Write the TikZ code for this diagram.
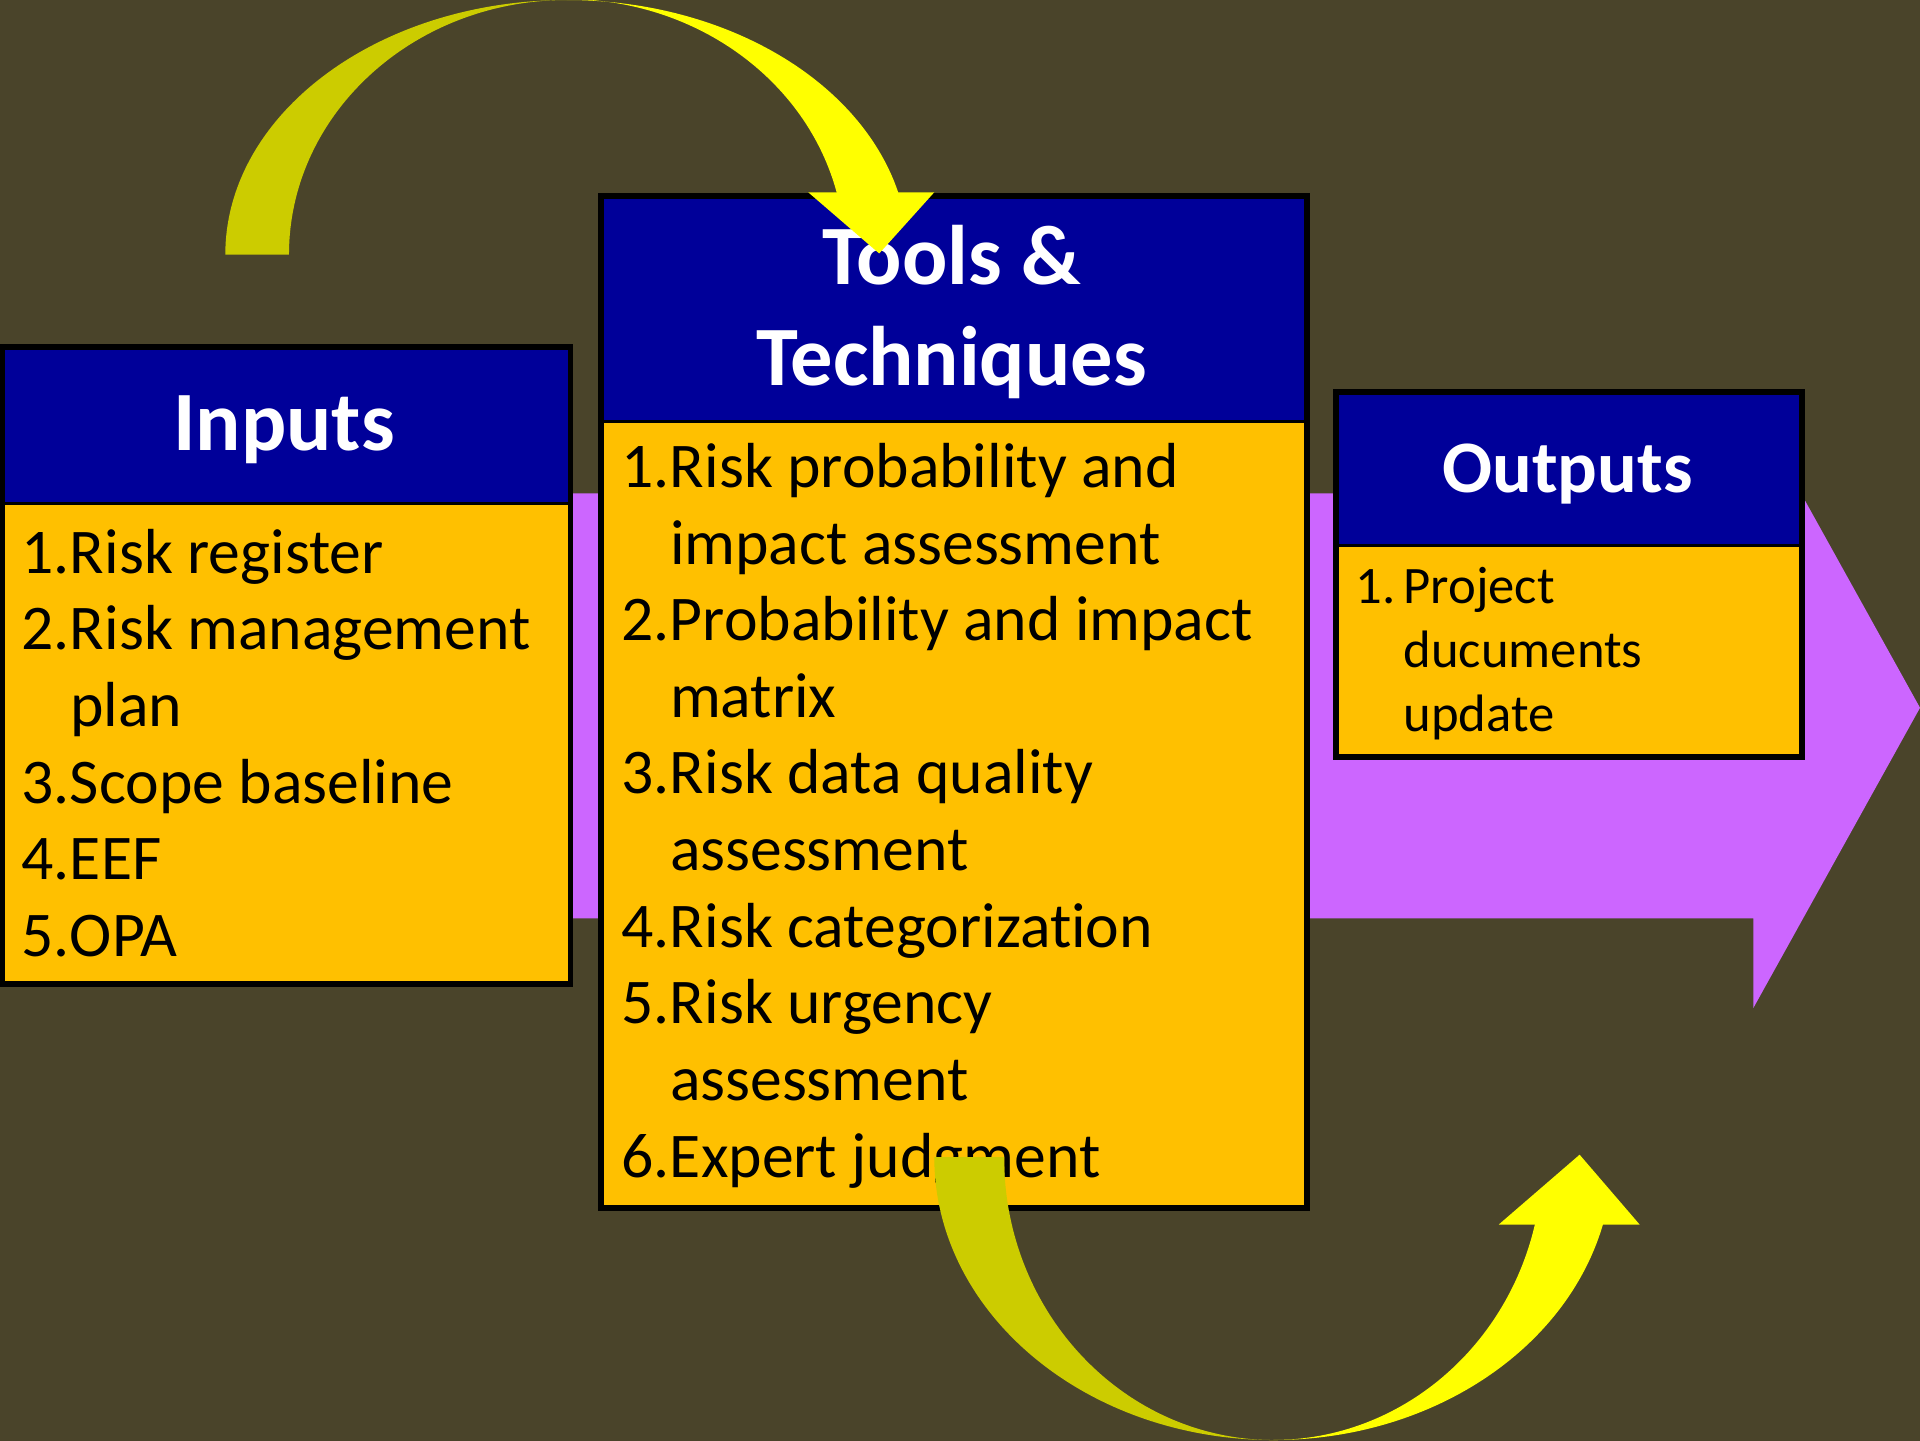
\documentclass[tikz,border=0pt]{standalone}
\usepackage{fontspec}
\setmainfont{Carlito}[Ligatures={NoCommon}]
\definecolor{bgolive}{HTML}{4A442A}
\definecolor{hdrblue}{HTML}{000099}
\definecolor{bodygold}{HTML}{FFC000}
\definecolor{flowpurple}{HTML}{CC66FF}
\definecolor{darkyel}{HTML}{CCCC00}
\definecolor{brightyel}{HTML}{FFFF00}
\newlength\numw
\newcommand\pitem[2]{\par\hangindent=\numw\hangafter=1\noindent\makebox[\numw][l]{#1}#2}
\tikzset{
  hdr/.style={fill=hdrblue, draw=black, line width=2.5pt, anchor=north west, inner sep=0},
  bodybox/.style={fill=bodygold, draw=black, line width=2.5pt, anchor=north west, inner sep=0},
  frame/.style={draw=black, line width=4.5pt},
  ttl/.style={text=white, font=\bfseries\fontsize{69}{82}\selectfont, anchor=base, inner sep=0},
  ttlsmall/.style={text=white, font=\bfseries\fontsize{60.5}{74}\selectfont, anchor=base, inner sep=0},
  itemtext/.style={anchor=base west, inner sep=0, text=black}
}
\begin{document}
\begin{tikzpicture}[x=1pt,y=-1pt]
\useasboundingbox (0,0) rectangle (1568,1176);
% background
\fill[bgolive] (-2,-2) rectangle (1570,1178);

% broad process arrow behind the boxes
\fill[flowpurple] (300,403) -- (1432,403) -- (1432,333) -- (1568,578)
  -- (1432,823) -- (1432,750) -- (300,750) -- cycle;

% Inputs
\node[hdr, minimum width=462pt, minimum height=127pt] (inHead) at (1.5,283) {};
\node[bodybox, minimum width=462pt, minimum height=391pt] (inBody) at (1.5,410) {};
\draw[frame] (inHead.north west) rectangle (inBody.south east);
\node[ttl] (inTitle) at (232,368) {Inputs};
\node[itemtext] (inList) at (17,468) {\parbox[t]{600pt}{\fontsize{52}{62.6}\selectfont\setlength\numw{40pt}%
  \pitem{1.}{Risk register}%
  \pitem{2.}{Risk management\\plan}%
  \pitem{3.}{Scope baseline}%
  \pitem{4.}{EEF}%
  \pitem{5.}{OPA}}};

% Tools & Techniques
\node[hdr, minimum width=574pt, minimum height=183pt] (ttHead) at (491,160) {};
\node[bodybox, minimum width=574pt, minimum height=641pt] (ttBody) at (491,343) {};
\draw[frame] (ttHead.north west) rectangle (ttBody.south east);
\node[ttl] (ttTitleA) at (777,232) {Tools \&};
\node[ttl] (ttTitleB) at (777,315) {Techniques};
\node[itemtext] (ttList) at (507,398) {\parbox[t]{700pt}{\fontsize{52}{62.6}\selectfont\setlength\numw{40pt}%
  \pitem{1.}{Risk probability and\\impact assessment}%
  \pitem{2.}{Probability and impact\\matrix}%
  \pitem{3.}{Risk data quality\\assessment}%
  \pitem{4.}{Risk categorization}%
  \pitem{5.}{Risk urgency\\assessment}%
  \pitem{6.}{Expert judgment}}};

% Outputs
\node[hdr, minimum width=378pt, minimum height=124pt] (outHead) at (1091,320) {};
\node[bodybox, minimum width=378pt, minimum height=172pt] (outBody) at (1091,444) {};
\draw[frame] (outHead.north west) rectangle (outBody.south east);
\node[ttlsmall] (outTitle) at (1280,402) {Outputs};
\node[itemtext] (outList) at (1107,493) {\parbox[t]{400pt}{\fontsize{43}{52}\selectfont\setlength\numw{39pt}%
  \pitem{1.}{Project\\ducuments\\update}}};

% curved arrow over the top: back half darker, front half with head
\fill[darkyel] (184,208) arc[start angle=180, end angle=90, x radius=279pt, y radius=208pt]
  arc[start angle=90, end angle=180, x radius=227pt, y radius=208pt] -- cycle;
\fill[brightyel] (463,0) arc[start angle=90, end angle=12, x radius=279pt, y radius=208pt]
  -- (685,164) arc[start angle=12, end angle=90, x radius=227pt, y radius=208pt] -- cycle;
\fill[brightyel] (660,157) -- (763,157) -- (718,207) -- cycle;

% curved arrow underneath, pointing up towards the outputs
\fill[darkyel] (763,945) arc[start angle=180, end angle=270, x radius=277pt, y radius=231pt]
  arc[start angle=270, end angle=180, x radius=220pt, y radius=231pt] -- cycle;
\fill[brightyel] (1040,1176) arc[start angle=270, end angle=348, x radius=277pt, y radius=231pt]
  -- (1255,993) arc[start angle=348, end angle=270, x radius=220pt, y radius=231pt] -- cycle;
\fill[brightyel] (1224,1000) -- (1339,1000) -- (1290,943) -- cycle;
\end{tikzpicture}
\end{document}
